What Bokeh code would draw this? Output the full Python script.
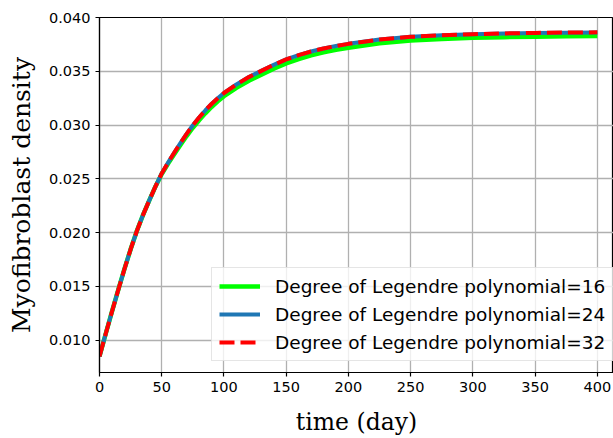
from bokeh.plotting import figure
from bokeh.models import Range1d, FixedTicker, NumeralTickFormatter, Legend, LegendItem
from bokeh.embed import file_html
from bokeh.resources import INLINE

# Data
time = [0, 5, 10, 15, 20, 25, 30, 35, 40, 45, 50, 55, 60, 65, 70, 75, 80, 85, 90, 95,
        100, 110, 120, 130, 140, 150, 160, 170, 180, 190, 200, 225, 250, 275, 300,
        325, 350, 375, 400]
deg16 = [0.00850, 0.01060, 0.01265, 0.01465, 0.01660, 0.01845, 0.02015, 0.02165, 0.02300,
         0.02430, 0.02545, 0.02640, 0.02728, 0.02815, 0.02898, 0.02975, 0.03045, 0.03109,
         0.03168, 0.03221, 0.03268, 0.03346, 0.03412, 0.03469, 0.03524, 0.03574, 0.03614,
         0.03648, 0.03676, 0.03699, 0.03719, 0.03760, 0.03787, 0.03801, 0.03811, 0.03817,
         0.03822, 0.03825, 0.03827]
deg24 = [0.00850, 0.01060, 0.01265, 0.01465, 0.01660, 0.01845, 0.02015, 0.02165, 0.02300,
         0.02430, 0.02550, 0.02650, 0.02743, 0.02833, 0.02918, 0.02998, 0.03070, 0.03136,
         0.03196, 0.03250, 0.03298, 0.03378, 0.03446, 0.03504, 0.03560, 0.03610, 0.03650,
         0.03684, 0.03712, 0.03735, 0.03755, 0.03795, 0.03820, 0.03835, 0.03845, 0.03851,
         0.03855, 0.03858, 0.03860]
deg32 = [0.00850, 0.01060, 0.01265, 0.01465, 0.01660, 0.01845, 0.02015, 0.02165, 0.02300,
         0.02430, 0.02550, 0.02650, 0.02743, 0.02833, 0.02918, 0.02998, 0.03070, 0.03136,
         0.03196, 0.03250, 0.03298, 0.03378, 0.03446, 0.03504, 0.03560, 0.03610, 0.03650,
         0.03684, 0.03712, 0.03735, 0.03755, 0.03795, 0.03820, 0.03835, 0.03845, 0.03852,
         0.03857, 0.03860, 0.03862]
labels = ["Degree of Legendre polynomial=16",
          "Degree of Legendre polynomial=24",
          "Degree of Legendre polynomial=32"]
x_ticks = [0, 50, 100, 150, 200, 250, 300, 350, 400]
y_ticks = [0.010, 0.015, 0.020, 0.025, 0.030, 0.035, 0.040]

p = figure(width=613, height=438, output_backend="svg", toolbar_location=None,
           x_range=Range1d(0, 413), y_range=Range1d(0.007, 0.040),
           min_border_left=99, min_border_right=0, min_border_top=17, min_border_bottom=60)
p.background_fill_color = "white"
p.border_fill_color = "white"
p.outline_line_color = "black"
p.outline_line_width = 1.2

r16 = p.line(time, deg16, line_color="#00ff00", line_width=4.5, line_join="round")
r24 = p.line(time, deg24, line_color="#1f77b4", line_width=4, line_join="round")
r32 = p.line(time, deg32, line_color="#ff0000", line_width=4, line_dash="15 6",
             line_join="round")

p.xaxis.ticker = FixedTicker(ticks=x_ticks)
p.yaxis.ticker = FixedTicker(ticks=y_ticks)
p.yaxis.formatter = NumeralTickFormatter(format="0.000")

for ax in (p.xaxis, p.yaxis):
    ax.major_label_text_font = "DejaVu Sans"
    ax.major_label_text_font_size = "14.5px"
    ax.major_label_text_color = "black"
    ax.axis_label_text_font = "DejaVu Serif"
    ax.axis_label_text_font_style = "normal"
    ax.axis_label_text_color = "black"
    ax.axis_line_color = "black"
    ax.axis_line_width = 1.2
    ax.major_tick_line_color = "black"
    ax.major_tick_line_width = 1.2
    ax.major_tick_out = 4
    ax.major_tick_in = 0
    ax.minor_tick_line_color = None
    ax.major_label_standoff = 5

p.xaxis.axis_label = "time (day)"
p.yaxis.axis_label = "Myofibroblast density"
p.xaxis.axis_label_text_font_size = "23.5px"
p.yaxis.axis_label_text_font_size = "25px"
p.xaxis.axis_label_standoff = 13
p.yaxis.axis_label_standoff = 10

p.grid.grid_line_color = "#b0b0b0"
p.grid.grid_line_width = 1.3

legend = Legend(items=[LegendItem(label=labels[0], renderers=[r16]),
                       LegendItem(label=labels[1], renderers=[r24]),
                       LegendItem(label=labels[2], renderers=[r32])],
                location=(112, 11), margin=0, padding=7, spacing=6,
                glyph_width=41, glyph_height=22, label_height=22, label_standoff=15,
                label_text_font="DejaVu Sans", label_text_font_size="18.5px",
                label_text_color="black",
                border_line_color="#cccccc", border_line_width=1,
                background_fill_color="white", background_fill_alpha=0.8)
p.add_layout(legend, "center")

open("out.html", "w").write(file_html(p, INLINE))
